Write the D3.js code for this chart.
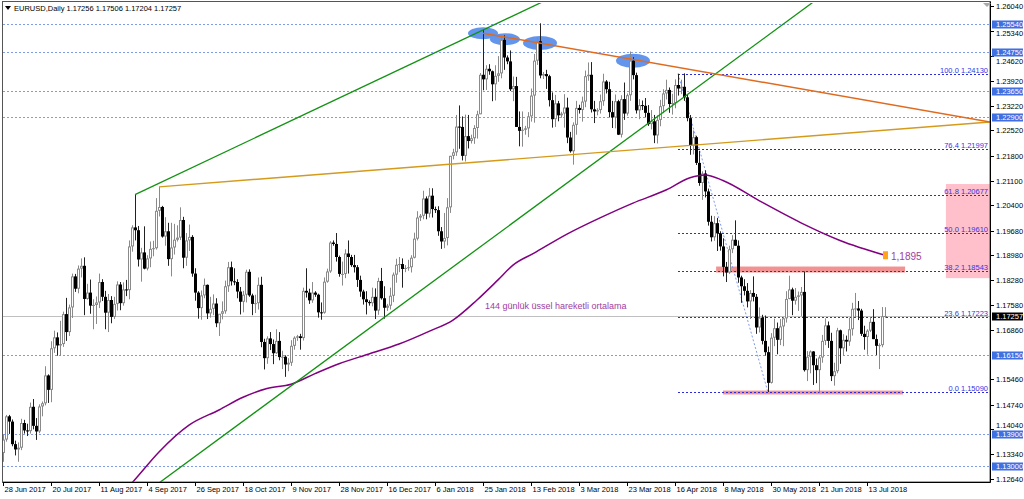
<!DOCTYPE html>
<html><head><meta charset="utf-8">
<script src="https://cdn.jsdelivr.net/npm/d3@7"></script>
<style>body{margin:0;background:#fff;overflow:hidden}svg{display:block;font-family:"Liberation Sans",Arial,sans-serif}</style>
</head><body><svg id="c" width="1024" height="499"></svg>
<script>
// ---------- DATA ----------
const titleText = "EURUSD,Daily  1.17256 1.17506 1.17204 1.17257";
// daily bars [open, high, low, close], bar index = position
const candles = [
[1.1337,1.1389,1.1312,1.1375],[1.1375,1.1445,1.1369,1.1441],[1.1441,1.1445,1.1391,1.1426],[1.1426,1.1432,1.1356,1.1362],
[1.1362,1.1372,1.1330,1.1347],[1.1347,1.1367,1.1312,1.1352],[1.1352,1.1434,1.1345,1.1422],[1.1422,1.1431,1.1392,1.1401],
[1.1401,1.1420,1.1385,1.1399],[1.1399,1.1480,1.1392,1.1468],[1.1468,1.1490,1.1404,1.1414],[1.1414,1.1436,1.1374,1.1398],
[1.1398,1.1475,1.1393,1.1469],[1.1469,1.1483,1.1441,1.1478],[1.1478,1.1583,1.1472,1.1557],[1.1557,1.1560,1.1479,1.1516],
[1.1516,1.1654,1.1481,1.1634],[1.1634,1.1684,1.1621,1.1665],[1.1665,1.1679,1.1613,1.1642],[1.1642,1.1712,1.1612,1.1646],
[1.1646,1.1738,1.1638,1.1731],[1.1731,1.1777,1.1655,1.1680],[1.1680,1.1758,1.1669,1.1750],[1.1750,1.1846,1.1720,1.1838],
[1.1838,1.1845,1.1794,1.1803],[1.1803,1.1869,1.1790,1.1860],[1.1860,1.1889,1.1835,1.1868],[1.1868,1.1892,1.1728,1.1774],
[1.1774,1.1817,1.1772,1.1792],[1.1792,1.1829,1.1732,1.1755],[1.1755,1.1773,1.1688,1.1757],[1.1757,1.1781,1.1703,1.1764],
[1.1764,1.1846,1.1748,1.1822],[1.1822,1.1830,1.1768,1.1780],[1.1780,1.1797,1.1688,1.1735],[1.1735,1.1788,1.1680,1.1771],
[1.1771,1.1782,1.1705,1.1723],[1.1723,1.1780,1.1717,1.1760],[1.1760,1.1824,1.1741,1.1815],[1.1815,1.1822,1.1742,1.1762],
[1.1762,1.1821,1.1755,1.1801],[1.1801,1.1828,1.1782,1.1799],[1.1799,1.1940,1.1773,1.1923],[1.1923,1.1983,1.1908,1.1977],
[1.1977,1.2070,1.1940,1.1969],[1.1969,1.1981,1.1866,1.1886],[1.1886,1.1919,1.1823,1.1906],[1.1906,1.1980,1.1858,1.1860],
[1.1860,1.1898,1.1855,1.1889],[1.1889,1.1937,1.1864,1.1916],[1.1916,1.1939,1.1895,1.1918],[1.1918,1.2060,1.1914,1.2024],
[1.2024,1.2092,1.2008,1.2035],[1.2035,1.2038,1.1948,1.1951],[1.1951,1.2006,1.1925,1.1966],[1.1966,1.1990,1.1868,1.1887],
[1.1887,1.1990,1.1838,1.1920],[1.1920,1.1987,1.1900,1.1942],[1.1942,1.1983,1.1937,1.1948],[1.1948,1.2034,1.1941,1.1998],
[1.1998,1.2007,1.1861,1.1891],[1.1891,1.1961,1.1868,1.1940],[1.1940,1.1985,1.1910,1.1950],[1.1950,1.1955,1.1837,1.1846],
[1.1846,1.1861,1.1769,1.1792],[1.1792,1.1796,1.1718,1.1748],[1.1748,1.1798,1.1715,1.1784],[1.1784,1.1832,1.1776,1.1814],
[1.1814,1.1815,1.1717,1.1733],[1.1733,1.1780,1.1721,1.1746],[1.1746,1.1787,1.1728,1.1761],[1.1761,1.1776,1.1694,1.1705],
[1.1705,1.1730,1.1669,1.1732],[1.1732,1.1767,1.1716,1.1739],[1.1739,1.1826,1.1732,1.1810],[1.1810,1.1879,1.1794,1.1864],
[1.1864,1.1880,1.1812,1.1824],[1.1824,1.1861,1.1813,1.1822],[1.1822,1.1830,1.1776,1.1795],[1.1795,1.1808,1.1730,1.1766],
[1.1766,1.1797,1.1736,1.1786],[1.1786,1.1857,1.1764,1.1851],[1.1851,1.1858,1.1780,1.1784],[1.1784,1.1789,1.1728,1.1760],
[1.1760,1.1786,1.1734,1.1762],[1.1762,1.1835,1.1744,1.1814],[1.1814,1.1837,1.1637,1.1652],[1.1652,1.1661,1.1574,1.1606],
[1.1606,1.1668,1.1590,1.1662],[1.1662,1.1680,1.1629,1.1646],[1.1646,1.1659,1.1589,1.1620],[1.1620,1.1688,1.1618,1.1655],
[1.1655,1.1680,1.1600,1.1609],[1.1609,1.1627,1.1575,1.1610],[1.1610,1.1614,1.1553,1.1588],[1.1588,1.1606,1.1569,1.1593],
[1.1593,1.1657,1.1584,1.1641],[1.1641,1.1668,1.1630,1.1664],[1.1664,1.1672,1.1655,1.1668],[1.1668,1.1675,1.1630,1.1663],
[1.1663,1.1806,1.1656,1.1797],[1.1797,1.1861,1.1778,1.1792],[1.1792,1.1803,1.1760,1.1770],[1.1770,1.1822,1.1763,1.1792],
[1.1792,1.1796,1.1780,1.1786],[1.1786,1.1789,1.1721,1.1736],[1.1736,1.1764,1.1715,1.1735],[1.1735,1.1835,1.1732,1.1823],
[1.1823,1.1860,1.1820,1.1852],[1.1852,1.1938,1.1848,1.1934],[1.1934,1.1940,1.1925,1.1930],[1.1930,1.1961,1.1880,1.1893],
[1.1893,1.1897,1.1837,1.1845],[1.1845,1.1880,1.1812,1.1845],[1.1845,1.1915,1.1833,1.1903],[1.1903,1.1940,1.1846,1.1893],
[1.1893,1.1899,1.1865,1.1870],[1.1870,1.1899,1.1849,1.1864],[1.1864,1.1870,1.1808,1.1828],[1.1828,1.1840,1.1780,1.1795],
[1.1795,1.1800,1.1758,1.1773],[1.1773,1.1796,1.1730,1.1765],[1.1765,1.1770,1.1755,1.1762],[1.1762,1.1806,1.1753,1.1780],
[1.1780,1.1804,1.1717,1.1741],[1.1741,1.1834,1.1729,1.1825],[1.1825,1.1862,1.1772,1.1776],[1.1776,1.1810,1.1718,1.1749],
[1.1749,1.1760,1.1740,1.1755],[1.1755,1.1806,1.1744,1.1783],[1.1783,1.1849,1.1765,1.1843],[1.1843,1.1888,1.1820,1.1871],
[1.1871,1.1893,1.1850,1.1873],[1.1873,1.1889,1.1806,1.1859],[1.1859,1.1870,1.1850,1.1862],[1.1862,1.1885,1.1854,1.1864],
[1.1864,1.1898,1.1849,1.1891],[1.1891,1.1962,1.1889,1.1945],[1.1945,1.2023,1.1940,1.2005],[1.2005,1.2015,1.1995,1.2010],
[1.2010,1.2081,1.2000,1.2059],[1.2059,1.2065,1.2000,1.2016],[1.2016,1.2089,1.2005,1.2067],[1.2067,1.2088,1.2005,1.2029],
[1.2029,1.2036,1.2018,1.2026],[1.2026,1.2037,1.1953,1.1966],[1.1966,1.1978,1.1916,1.1937],[1.1937,1.2018,1.1918,1.1947],
[1.1947,1.2060,1.1926,1.2034],[1.2034,1.2180,1.2018,1.2180],[1.2180,1.2200,1.2170,1.2190],[1.2190,1.2296,1.2180,1.2263],
[1.2263,1.2323,1.2200,1.2262],[1.2262,1.2292,1.2167,1.2180],[1.2180,1.2297,1.2164,1.2236],[1.2236,1.2296,1.2201,1.2222],
[1.2222,1.2240,1.2215,1.2230],[1.2230,1.2267,1.2214,1.2259],[1.2259,1.2308,1.2229,1.2298],[1.2298,1.2415,1.2298,1.2410],
[1.2410,1.2537,1.2366,1.2397],[1.2397,1.2437,1.2367,1.2427],[1.2427,1.2440,1.2410,1.2420],[1.2420,1.2422,1.2335,1.2383],
[1.2383,1.2437,1.2337,1.2407],[1.2407,1.2463,1.2390,1.2414],[1.2414,1.2519,1.2400,1.2509],[1.2509,1.2522,1.2424,1.2459],
[1.2459,1.2465,1.2440,1.2448],[1.2448,1.2479,1.2364,1.2369],[1.2369,1.2405,1.2335,1.2378],[1.2378,1.2404,1.2262,1.2262],
[1.2262,1.2306,1.2207,1.2251],[1.2251,1.2306,1.2206,1.2254],[1.2254,1.2265,1.2240,1.2258],[1.2258,1.2304,1.2233,1.2292],
[1.2292,1.2371,1.2277,1.2351],[1.2351,1.2469,1.2274,1.2450],[1.2450,1.2517,1.2438,1.2505],[1.2505,1.2556,1.2400,1.2408],
[1.2408,1.2418,1.2398,1.2412],[1.2412,1.2424,1.2370,1.2406],[1.2406,1.2410,1.2320,1.2338],[1.2338,1.2360,1.2260,1.2284],
[1.2284,1.2353,1.2262,1.2329],[1.2329,1.2336,1.2278,1.2295],[1.2295,1.2305,1.2288,1.2300],[1.2300,1.2355,1.2260,1.2317],
[1.2317,1.2345,1.2216,1.2232],[1.2232,1.2248,1.2189,1.2193],[1.2193,1.2275,1.2155,1.2268],[1.2268,1.2336,1.2240,1.2316],
[1.2316,1.2325,1.2300,1.2310],[1.2310,1.2348,1.2277,1.2334],[1.2334,1.2422,1.2318,1.2406],[1.2406,1.2445,1.2393,1.2410],
[1.2410,1.2446,1.2303,1.2312],[1.2312,1.2336,1.2273,1.2306],[1.2306,1.2315,1.2295,1.2310],[1.2310,1.2354,1.2300,1.2335],
[1.2335,1.2413,1.2322,1.2391],[1.2391,1.2395,1.2357,1.2369],[1.2369,1.2390,1.2289,1.2304],[1.2304,1.2336,1.2259,1.2289],
[1.2289,1.2354,1.2258,1.2335],[1.2335,1.2339,1.2239,1.2240],[1.2240,1.2352,1.2232,1.2341],[1.2341,1.2388,1.2282,1.2300],
[1.2300,1.2357,1.2294,1.2352],[1.2352,1.2476,1.2336,1.2450],[1.2450,1.2460,1.2397,1.2409],[1.2409,1.2416,1.2300,1.2309],
[1.2309,1.2341,1.2284,1.2324],[1.2324,1.2337,1.2310,1.2322],[1.2322,1.2344,1.2289,1.2302],[1.2302,1.2324,1.2265,1.2270],
[1.2270,1.2310,1.2255,1.2278],[1.2278,1.2296,1.2216,1.2238],[1.2238,1.2295,1.2215,1.2282],[1.2282,1.2339,1.2264,1.2321],
[1.2321,1.2369,1.2301,1.2357],[1.2357,1.2396,1.2340,1.2367],[1.2367,1.2374,1.2302,1.2327],[1.2327,1.2356,1.2297,1.2330],
[1.2330,1.2397,1.2315,1.2381],[1.2381,1.2413,1.2351,1.2371],[1.2371,1.2396,1.2355,1.2376],[1.2376,1.2414,1.2336,1.2346],
[1.2346,1.2355,1.2278,1.2287],[1.2287,1.2296,1.2183,1.2209],[1.2209,1.2252,1.2184,1.2233],[1.2233,1.2237,1.2154,1.2160],
[1.2160,1.2194,1.2095,1.2103],[1.2103,1.2136,1.2055,1.2130],[1.2130,1.2139,1.2062,1.2079],[1.2079,1.2087,1.1982,1.1993],
[1.1993,1.2010,1.1937,1.1949],[1.1949,1.2009,1.1939,1.1989],[1.1989,1.2004,1.1910,1.1960],[1.1960,1.1966,1.1911,1.1923],
[1.1923,1.1946,1.1838,1.1865],[1.1865,1.1879,1.1822,1.1849],[1.1849,1.1925,1.1845,1.1915],[1.1915,1.1955,1.1904,1.1942],
[1.1942,1.1997,1.1925,1.1925],[1.1925,1.1940,1.1820,1.1835],[1.1835,1.1840,1.1763,1.1810],[1.1810,1.1830,1.1784,1.1797],
[1.1797,1.1819,1.1750,1.1767],[1.1767,1.1799,1.1717,1.1791],[1.1791,1.1838,1.1767,1.1780],[1.1780,1.1788,1.1675,1.1693],
[1.1693,1.1750,1.1679,1.1721],[1.1721,1.1729,1.1645,1.1655],[1.1655,1.1727,1.1613,1.1623],[1.1623,1.1639,1.1510,1.1536],
[1.1536,1.1677,1.1534,1.1664],[1.1664,1.1718,1.1640,1.1691],[1.1691,1.1707,1.1617,1.1658],[1.1658,1.1717,1.1643,1.1696],
[1.1696,1.1723,1.1640,1.1719],[1.1719,1.1796,1.1707,1.1774],[1.1774,1.1840,1.1773,1.1801],[1.1801,1.1806,1.1728,1.1769],
[1.1769,1.1805,1.1758,1.1780],[1.1780,1.1795,1.1740,1.1784],[1.1784,1.1808,1.1725,1.1794],[1.1794,1.1852,1.1568,1.1572],
[1.1572,1.1626,1.1541,1.1610],[1.1610,1.1628,1.1563,1.1625],[1.1625,1.1626,1.1530,1.1586],[1.1586,1.1605,1.1535,1.1572],
[1.1572,1.1612,1.1508,1.1608],[1.1608,1.1672,1.1593,1.1655],[1.1655,1.1719,1.1643,1.1699],[1.1699,1.1710,1.1635,1.1655],
[1.1655,1.1678,1.1541,1.1555],[1.1555,1.1593,1.1528,1.1569],[1.1569,1.1692,1.1563,1.1685],[1.1685,1.1687,1.1590,1.1634],
[1.1634,1.1674,1.1613,1.1658],[1.1658,1.1670,1.1625,1.1653],[1.1653,1.1721,1.1641,1.1688],[1.1688,1.1763,1.1670,1.1746],
[1.1746,1.1791,1.1722,1.1747],[1.1747,1.1768,1.1714,1.1741],[1.1741,1.1746,1.1669,1.1675],[1.1675,1.1698,1.1630,1.1666],
[1.1666,1.1688,1.1616,1.1684],[1.1684,1.1722,1.1680,1.1709],[1.1709,1.1745,1.1660,1.1660],[1.1660,1.1673,1.1615,1.1641],
[1.1641,1.1648,1.1575,1.1643],[1.1643,1.1751,1.1637,1.1725],[1.17256,1.17506,1.17204,1.17257]
];
const dateLabels = ["28 Jun 2017","20 Jul 2017","11 Aug 2017","4 Sep 2017","26 Sep 2017","18 Oct 2017","9 Nov 2017","28 Nov 2017","16 Dec 2017","6 Jan 2018","25 Jan 2018","13 Feb 2018","3 Mar 2018","23 Mar 2018","16 Apr 2018","8 May 2018","30 May 2018","21 Jun 2018","13 Jul 2018"];
const dateLabelBars = [0,16,32,48,64,80,96,112,128,144,160,176,192,208,224,240,256,272,288];
const priceTicks = [1.26040,1.25340,1.24620,1.23920,1.23220,1.22520,1.21800,1.21100,1.20400,1.19680,1.18980,1.18280,1.17580,1.16860,1.15460,1.14740,1.14040,1.13340,1.12640];
const levelLines = [1.25540,1.24750,1.23650,1.22900,1.16150,1.13900,1.13000];
const lastPrice = 1.17257;
const fibAnchors = [[225,1.24130],[255,1.15090]];
const fibLevels = ["100.0","76.4","61.8","50.0","38.2","23.6","0.0"];
const fibPrices = [1.24130,1.21997,1.20677,1.19610,1.18543,1.17223,1.15090];
const fibZone = [314.3,329,1.2100,1.1833];
const emaPoints = [[40,1.1225],[44,1.1262],[52,1.1340],[62,1.1416],[72,1.1459],[80,1.1495],[88,1.1520],[96,1.1532],[104,1.1562],[112,1.1590],[122,1.1618],[132,1.1646],[142,1.1682],[150,1.1714],[158,1.1771],[165,1.1828],[170,1.1870],[177,1.1904],[188,1.1958],[199,1.2004],[210,1.2046],[221,1.2083],[229,1.2118],[234,1.2126],[240,1.2110],[252,1.2053],[266,1.1990],[279,1.1940],[294,1.1898]];
const emaValueLabel = "1,1895";
const emaNote = "144 günlük üssel hareketli ortalama";
const greenLineA = [[44,1.2070],[160,1.2537]];
const greenLineB = [[53.3,1.1260],[269.7,1.2614]];
const goldLine = [[52,1.2092],[329,1.2276]];
const orangeLine = [[160,1.2528],[329,1.2276]];
const peakMarks = [[160,1.2528],[167.3,1.2511],[179,1.2500],[210,1.2450]];
const zones = [[237.7,300.7,1.1866,1.1849],[240,300,1.1514,1.1503]];

// ---------- SCALES ----------
const svg = d3.select("#c");
const L = 3, R = 990, T = 3, B = 482;
const x = d3.scaleLinear().domain([0,329]).range([3,990]);
const y = d3.scaleLinear().domain([1.12640,1.26040]).range([478.7,6.4]);

svg.append("rect").attr("width",1024).attr("height",499).attr("fill","#fff");
svg.append("defs").append("clipPath").attr("id","clip").append("rect")
  .attr("x",L).attr("y",T).attr("width",R-L).attr("height",B-T);
const g = svg.append("g").attr("clip-path","url(#clip)");

// background objects
g.append("rect").attr("x",x(fibZone[0])).attr("width",x(fibZone[1])-x(fibZone[0]))
  .attr("y",y(fibZone[2])).attr("height",y(fibZone[3])-y(fibZone[2])).attr("fill","#ffc0cb");
zones.forEach(z=>{
  g.append("rect").attr("x",x(z[0])).attr("width",x(z[1])-x(z[0]))
   .attr("y",y(z[2])).attr("height",y(z[3])-y(z[2])).attr("fill","#f08080").attr("opacity",0.85);
});
peakMarks.forEach((p,k)=>{
  g.append("ellipse").attr("cx",x(p[0])).attr("cy",y(p[1])).attr("rx",k<2?15:17).attr("ry",k<2?6:7).attr("fill","#6495ed");
});

// horizontal level lines
levelLines.forEach(v=>{
  g.append("line").attr("x1",L).attr("x2",R).attr("y1",Math.round(y(v))+0.5).attr("y2",Math.round(y(v))+0.5)
   .attr("stroke","#7f9bf0").attr("stroke-dasharray","2,2");
});
// bid line
g.append("line").attr("x1",L).attr("x2",R).attr("y1",Math.round(y(lastPrice))+0.5).attr("y2",Math.round(y(lastPrice))+0.5)
  .attr("stroke","#c0c0c0");
// fib
g.append("line").attr("x1",x(fibAnchors[0][0])).attr("y1",y(fibAnchors[0][1])).attr("x2",x(fibAnchors[1][0])).attr("y2",y(fibAnchors[1][1]))
  .attr("stroke","#7f9bf0").attr("stroke-dasharray","2,2");
fibPrices.forEach((v,k)=>{
  const yy = Math.round(y(v))+0.5;
  g.append("line").attr("x1",x(fibAnchors[0][0])).attr("x2",R).attr("y1",yy).attr("y2",yy)
   .attr("stroke","#2c2cdc").attr("stroke-dasharray","2,2");
  g.append("text").attr("x",R-2).attr("y",yy-1.5).attr("text-anchor","end").attr("font-size",7.5)
   .attr("fill","#3535e6").text(fibLevels[k]+" "+v.toFixed(5));
});

// candles
const cg = g.append("g");
candles.forEach((c,i)=>{
  const [o,h,l,cl] = c; const cx = Math.round(x(i));
  const bull = cl >= o;
  cg.append("line").attr("x1",cx+0.5).attr("x2",cx+0.5).attr("y1",y(h)).attr("y2",y(l))
    .attr("stroke",bull?"#8a8a8a":"#222");
  const top = y(Math.max(o,cl)), bot = y(Math.min(o,cl));
  const hgt = Math.max(1,bot-top);
  cg.append("rect").attr("x",cx-1).attr("width",3).attr("y",top).attr("height",hgt).attr("fill",bull?"#8a8a8a":"#000");
  if(bull && hgt>2) cg.append("rect").attr("x",cx).attr("width",1).attr("y",top+1).attr("height",hgt-2).attr("fill","#fff");
});

// EMA
g.append("path").datum(emaPoints).attr("fill","none").attr("stroke","#800080").attr("stroke-width",1.5)
  .attr("d",d3.line().x(d=>x(d[0])).y(d=>y(d[1])).curve(d3.curveMonotoneX));
// trend lines
function ray(pts,col,w){
  const [a,b] = pts; const s=(b[1]-a[1])/(b[0]-a[0]);
  const x2=400; g.append("line").attr("x1",x(a[0])).attr("y1",y(a[1])).attr("x2",x(x2)).attr("y2",y(a[1]+s*(x2-a[0])))
   .attr("stroke",col).attr("stroke-width",w);
}
function ray2(pts,col,w){
  const [a,b] = pts; const s=(b[1]-a[1])/(b[0]-a[0]);
  g.append("line").attr("x1",x(-20)).attr("y1",y(a[1]+s*(-20-a[0]))).attr("x2",x(400)).attr("y2",y(a[1]+s*(400-a[0])))
   .attr("stroke",col).attr("stroke-width",w);
}
ray(greenLineA,"#129212",1.3);
ray2(greenLineB,"#129212",1.3);
ray(goldLine,"#d49a1c",1.4);
ray(orangeLine,"#e06a1e",1.4);

// EMA end marker + text
const last = emaPoints[emaPoints.length-1];
svg.append("rect").attr("x",x(last[0])-2).attr("y",y(last[1])-4).attr("width",5).attr("height",8).attr("fill","#ffa31a");
svg.append("text").attr("x",x(last[0])+6).attr("y",y(1.1895)+4).attr("font-size",10).attr("fill","#a03ca0").text(emaValueLabel);
svg.append("text").attr("x",485).attr("y",309).attr("font-size",9).attr("fill","#a03ca0").text(emaNote);

// frame
svg.append("rect").attr("x",2.5).attr("y",1.5).attr("width",R-2.5).attr("height",B-1.5).attr("fill","none").attr("stroke","#555");
svg.append("line").attr("x1",R+0.5).attr("x2",R+0.5).attr("y1",1.5).attr("y2",B+0.5).attr("stroke","#000");
svg.append("line").attr("x1",2.5).attr("x2",R+0.5).attr("y1",B+0.5).attr("y2",B+0.5).attr("stroke","#000");

// title
svg.append("path").attr("d","M5,6 L11,6 L8,10 Z").attr("fill","#000");
svg.append("text").attr("x",14).attr("y",11).attr("font-size",7.5).attr("fill","#000").text(titleText);
svg.append("path").attr("d","M983,3 L991,3 L987,7 Z").attr("fill","#aaa");

// right axis
const ax = svg.append("g").attr("font-size",7.5);
const tagged = levelLines.concat([lastPrice]);
priceTicks.forEach(v=>{
  const yy=Math.round(y(v))+0.5;
  ax.append("line").attr("x1",R).attr("x2",R+4).attr("y1",yy).attr("y2",yy).attr("stroke","#000");
  // nudge a plain label away from a nearby highlighted tag so the two stay readable
  let dy = 0;
  tagged.forEach(t=>{ const d = yy-(Math.round(y(t))+0.5); if(Math.abs(d)<9) dy = (d>=0?1:-1)*(9-Math.abs(d)); });
  ax.append("text").attr("x",996).attr("y",yy+2.7+dy).attr("fill","#000").text(v.toFixed(5));
});
function tag(v,bg){
  const yy=Math.round(y(v))+0.5;
  ax.append("rect").attr("x",992).attr("y",yy-4).attr("width",31).attr("height",8).attr("fill",bg);
  ax.append("text").attr("x",996).attr("y",yy+2.7).attr("fill","#fff").text(v.toFixed(5));
}
levelLines.forEach(v=>tag(v,"#3f6fe0"));
tag(lastPrice,"#000");

// bottom axis
dateLabelBars.forEach((b,k)=>{
  const xx=Math.round(x(b))+0.5;
  svg.append("line").attr("x1",xx).attr("x2",xx).attr("y1",B).attr("y2",B+4).attr("stroke","#000");
  svg.append("text").attr("x",xx+1).attr("y",492).attr("font-size",7.5).attr("fill","#000").text(dateLabels[k]);
});
</script></body></html>
